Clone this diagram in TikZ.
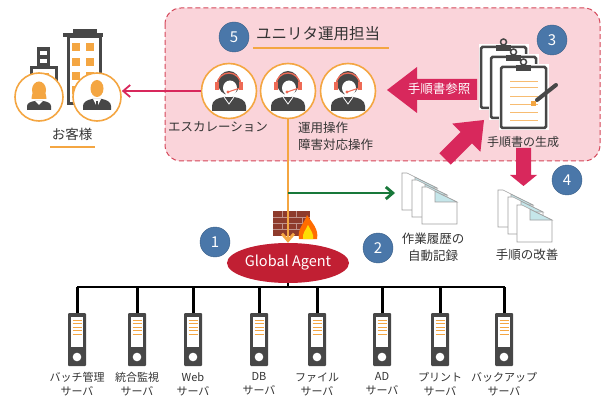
\documentclass[tikz,border=0pt]{standalone}
\usepackage{fontspec}
\setmainfont{Noto Sans CJK JP}
\usetikzlibrary{arrows.meta,shapes.geometric}

\definecolor{pinkbg}{HTML}{FAD4DA}
\definecolor{pinkline}{HTML}{D4475A}
\definecolor{orng}{HTML}{F4A642}
\definecolor{numblue}{HTML}{4A77A9}
\definecolor{dkgray}{HTML}{474747}
\definecolor{crimson}{HTML}{D8285C}
\definecolor{agentred}{HTML}{C11F33}
\definecolor{logreen}{HTML}{18783A}
\definecolor{txt}{HTML}{333333}
\definecolor{headset}{HTML}{EE6A55}
\definecolor{pagefold}{HTML}{C5E6EA}
\definecolor{brick}{HTML}{8E3B2C}

\tikzset{
  num/.style={circle, fill=numblue, draw=numblue!80!black, minimum size=30pt, inner sep=0pt, text=white, font=\fontsize{15}{15}\selectfont},
  lbl/.style={text=txt, font=\fontsize{12.5}{17}\selectfont, align=center, inner sep=0pt},
  srvlbl/.style={text=txt, font=\fontsize{11}{14}\selectfont, align=center, inner sep=0pt},
  face/.style={circle, draw=orng, line width=1.6pt, fill=white, minimum size=55pt, inner sep=0pt},
  guest/.style={circle, draw=orng, line width=1.6pt, fill=white, minimum size=48pt, inner sep=0pt},
  srvbox/.style={rectangle, fill=dkgray, minimum width=18pt, minimum height=53pt, inner sep=0pt, rounded corners=1pt},
  page/.style={fill=white, draw=gray!75, line width=0.6pt},
  barb/.style={-{Straight Barb[length=7pt,width=12pt]}},
}

\begin{document}
\begin{tikzpicture}[x=1pt, y=-1pt]
	\useasboundingbox (0,0) rectangle (610,398);

	% operations team area
	\draw [pinkline, line width=1pt, dash pattern=on 5pt off 3pt, fill=pinkbg, rounded corners=16pt] (165,8) rectangle (600,161);
	\node [num] (n5) at (234,37) {5};
	\node [lbl, font=\fontsize{15.5}{16}\selectfont, anchor=west] (team) at (256,34) {ユニリタ運用担当};
	\draw [orng, line width=2pt] (253,48) -- (389,48);

	% operators
	\foreach \cx [count=\i] in {229,288,348} {
		\node [face] (op\i) at (\cx,91) {};
		\fill [dkgray] (\cx,83) ellipse (11 and 12);
		\fill [dkgray] (\cx-17,111) -- (\cx-17,106) .. controls (\cx-17,100) and (\cx-11,98) .. (\cx-5,97) -- (\cx+5,97) .. controls (\cx+11,98) and (\cx+17,100) .. (\cx+17,106) -- (\cx+17,111) -- cycle;
		\fill [white] (\cx+1,88) ellipse (7 and 7.5);
		\fill [white] (\cx-3,93) rectangle (\cx+3,97);
		\draw [white, line width=0.8pt] (\cx-5,97) -- (\cx,104) -- (\cx+5,97);
		\draw [headset, line width=1.3pt] (\cx-12,85) arc (180:360:12);
		\fill [headset] (\cx-14,82) rectangle (\cx-10,90);
		\fill [headset] (\cx+10,82) rectangle (\cx+14,90);
		\draw [headset, line width=1pt] (\cx+11,88) -- (\cx-1,92);
		\fill [headset] (\cx-1,92) circle (1.7);
	}
	\node [lbl, anchor=north] (esc) at (218,121) {エスカレーション};
	\node [lbl, anchor=north west, align=left] (ops) at (298,122) {運用操作\\障害対応操作};

	% customer buildings
	\fill [dkgray] (73,29) rectangle (97,33);
	\fill [dkgray] (63,33) rectangle (103,37);
	\draw [dkgray, line width=3pt, fill=white] (68,37) rectangle (100,104);
	\foreach \wy in {43,58,72,86}
		\foreach \wx in {72,86}
			\fill [orng] (\wx,\wy) rectangle ++(8,8);
	\fill [dkgray] (37,47) rectangle (50,67);
	\fill [white] (40,51) rectangle (47,55);
	\fill [white] (40,59) rectangle (47,63);
	\draw [dkgray, line width=3pt, fill=white] (31,68) rectangle (56,104);
	\fill [orng] (38,73) rectangle (49,80);

	% customers
	\node [guest] (g1) at (39,97) {};
	\fill [orng] (39,90) ellipse (7 and 8.5);
	\fill [orng] (31.5,99) .. controls (32,92) and (34,90) .. (39,90) .. controls (44,90) and (46,92) .. (46.5,99) -- cycle;
	\fill [dkgray] (27,110) -- (27,106) .. controls (27,103) and (31,101.5) .. (35,101) -- (43,101) .. controls (47,101.5) and (51,103) .. (51,106) -- (51,110) -- cycle;
	\fill [white] (35,101) -- (39,105) -- (43,101) -- cycle;
	\node [guest] (g2) at (97,97) {};
	\fill [orng] (97,88.5) ellipse (6.5 and 8.5);
	\fill [dkgray] (83,110) -- (83,106) .. controls (83,102) and (87,100) .. (92,99) -- (102,99) .. controls (107,100) and (111,102) .. (111,106) -- (111,110) -- cycle;
	\fill [white] (93,99) -- (97,107) -- (101,99) -- cycle;
	\fill [dkgray] (96.2,101) rectangle (97.8,107);
	\node [lbl, font=\fontsize{13.5}{14}\selectfont] (cust) at (72,134) {お客様};
	\draw [orng, line width=2pt] (50,147) -- (95,147);

	% escalation to customers
	\draw [crimson, line width=1.8pt, barb] (op1.west) -- (op1.west -| g2.east);

	% clipboards
	\foreach \bx/\by in {481/47, 491/57, 501/67} {
		\draw [white, line width=5pt] (\bx,\by) rectangle ++(45,61);
		\draw [dkgray, line width=2.5pt, fill=white, rounded corners=1.5pt] (\bx,\by) rectangle ++(45,61);
		\foreach \ly in {15,21,30,38,46,54}
			\draw [orng!75, line width=1pt] (\bx+9,\by+\ly) -- (\bx+37,\by+\ly);
		\fill [dkgray] (\bx+15,\by-2) rectangle (\bx+30,\by+4);
		\draw [dkgray, line width=1.5pt] (\bx+22.5,\by-5) circle (3);
	}
	\draw [dkgray, line width=4pt, line cap=round] (537,100) -- (556,85);
	\fill [orng] (531,101) rectangle (536,106);
	\node [num] (n3) at (552,40) {3};
	\node [lbl, font=\fontsize{12}{14}\selectfont] (gen) at (523,142) {手順書の生成};

	% big arrows
	\fill [crimson] (387,90) -- (417,67) -- (417,79) -- (477,79) -- (477,100) -- (417,100) -- (417,113) -- cycle;
	\node [lbl, text=white, font=\fontsize{12.5}{14}\selectfont] (refer) at (439,89) {手順書参照};
	\fill [crimson] (484,120) -- (480.4,151.8) -- (472,143.4) -- (450.8,164.6) -- (439.4,153.2) -- (460.6,132) -- (452.2,123.6) -- cycle;
	\fill [crimson] (516,148) -- (531,148) -- (531,175) -- (537,175) -- (523.5,186) -- (510,175) -- (516,175) -- cycle;

	% document stacks
	\foreach \px/\py in {402/173, 412/180, 422/187, 498/190, 508/197, 517/205} {
		\draw [page] (\px,\py) -- (\px+5,\py) -- (\px+35,\py+15) -- (\px+35,\py+37) -- (\px,\py+37) -- cycle;
		\draw [page, fill=pagefold] (\px+13,\py+4.3) -- (\px+35,\py+15) -- (\px+13,\py+15) -- cycle;
	}
	\node [lbl] (logtxt) at (433,247) {作業履歴の\\自動記録};
	\node [lbl] (improve) at (527,255) {手順の改善};
	\node [num] (n4) at (567,180) {4};
	\node [num] (n2) at (378,248) {2};

	% firewall
	\fill [brick] (273,211) rectangle (310,236);
	\foreach \my in {217,223,229}
		\draw [brick!55!white, line width=0.6pt] (273,\my) -- (310,\my);
	\foreach \mx in {282,296}
		\draw [brick!55!white, line width=0.6pt] (\mx,211) -- (\mx,217) (\mx+6,217) -- (\mx+6,223) (\mx,223) -- (\mx,229) (\mx+6,229) -- (\mx+6,236);
	\fill [orange!85!red] (299,239) .. controls (297,229) and (304,224) .. (307,215) .. controls (312,223) and (319,229) .. (317,239) -- cycle;
	\fill [yellow!80!orange] (303,239) .. controls (302,233) and (306,230) .. (308,225) .. controls (311,231) and (314,234) .. (313,239) -- cycle;

	% agent and flows
	\node [ellipse, fill=agentred, minimum width=120pt, minimum height=40pt, inner sep=0pt, text=white, font=\fontsize{14.5}{15}\selectfont] (ga) at (288,263) {Global Agent};
	\node [num] (n1) at (215,242) {1};
	\draw [orng, line width=2.8pt, barb] (op2.south) -- (ga.north);
	\coordinate (tap) at (288,193);
	\coordinate (logdoc) at (395,193);
	\draw [logreen, line width=2.8pt, barb] (tap) -- (logdoc);

	% servers
	\coordinate (busL) at (77,287);
	\coordinate (busR) at (505,287);
	\draw [line width=2.4pt] (busL) -- (busR);
	\draw [line width=2.4pt] (ga.south) -- (ga.south |- busL);
	\foreach \sx/\sname [count=\i] in {77/{バッチ管理\\サーバ}, 137/{統合監視\\サーバ}, 193/{Web\\サーバ}, 259/{DB\\サーバ}, 317/{ファイル\\サーバ}, 382/{AD\\サーバ}, 440/{プリント\\サーバ}, 504/{バックアップ\\サーバ}} {
		\node [srvbox] (srv\i) at (\sx,339.5) {};
		\draw [line width=3pt] (srv\i.north) -- (srv\i.north |- busL);
		\fill [white] (\sx-6,317) rectangle (\sx+6,347);
		\foreach \ly in {320,323.5,327,330.5,334}
			\draw [orng, line width=1pt] (\sx-4.5,\ly) -- (\sx+4.5,\ly);
		\fill [white] (\sx,357) circle (4.3);
		\node [srvlbl] (slbl\i) at (\sx,384) {\sname};
	}
\end{tikzpicture}
\end{document}
